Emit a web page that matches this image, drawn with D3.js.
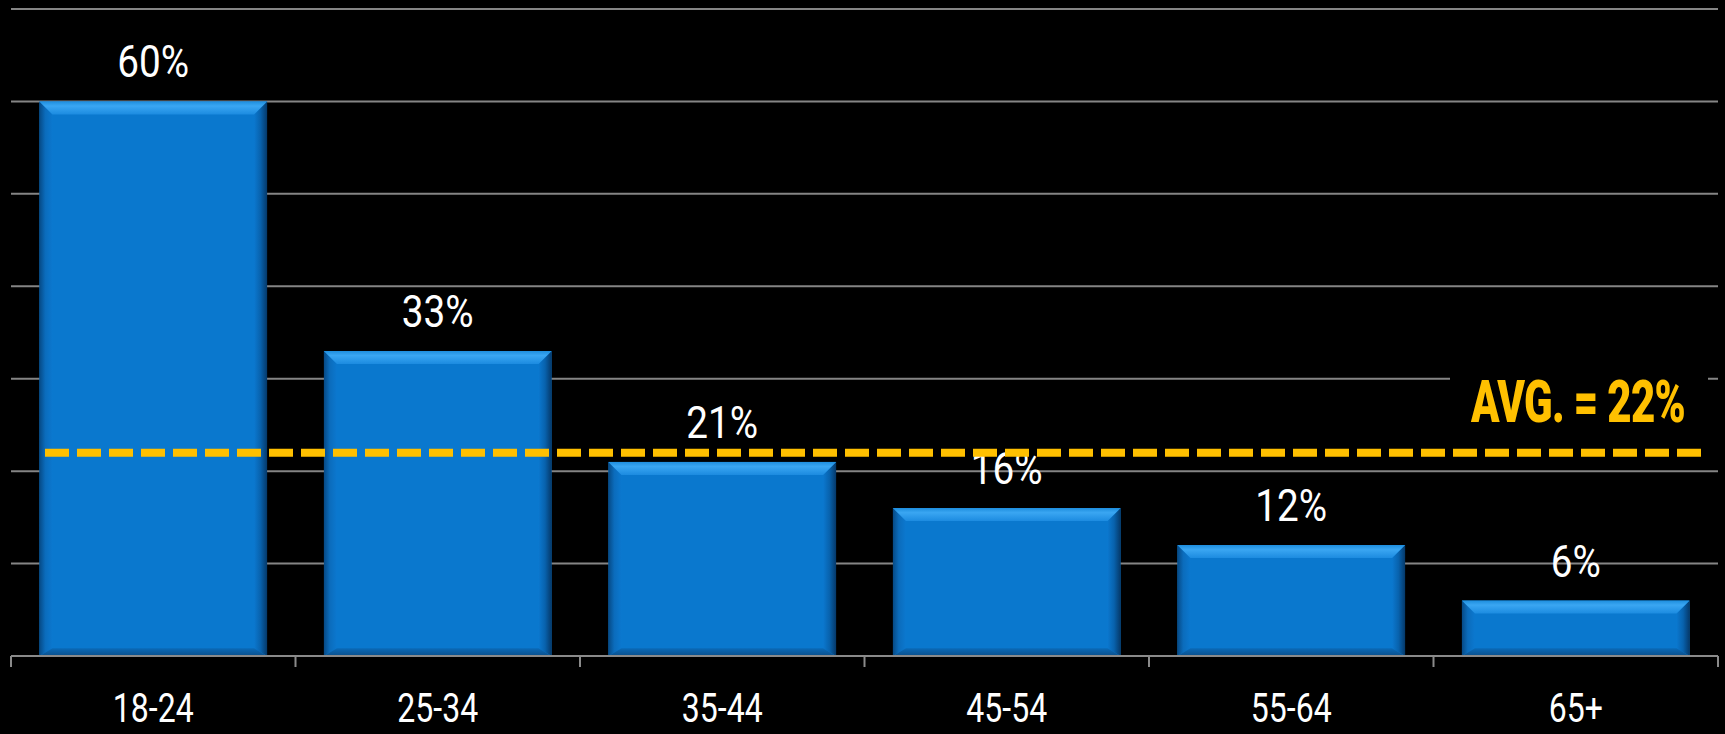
<!DOCTYPE html>
<html>
<head>
<meta charset="utf-8">
<script src="https://cdn.jsdelivr.net/npm/d3@7"></script>
<style>
  html, body { margin: 0; padding: 0; background: #000; }
  svg { display: block; }
</style>
</head>
<body>
<svg id="chart" width="1725" height="734"></svg>
<script>
// Share of respondents by age group
const categories = ["18-24", "25-34", "35-44", "45-54", "55-64", "65+"];
const values = [60, 33, 21, 16, 12, 6];
const averageValue = 22;
const averageLabel = "AVG. = 22%";
const gridTicks = [10, 20, 30, 40, 50, 60, 70];

const W = 1725, H = 734;
const plotLeft = 11, plotRight = 1718, plotTop = 9, baseline = 656;

const svg = d3.select("#chart");
svg.append("rect").attr("width", W).attr("height", H).attr("fill", "#000");

const x = d3.scaleBand().domain(categories).range([plotLeft, plotRight])
  .paddingInner(0.2).paddingOuter(0.1);
const y = d3.scaleLinear().domain([0, 70]).range([baseline, plotTop]);

// gradients for the bevelled bars
const defs = svg.append("defs");
function lin(id, x1, y1, x2, y2, stops) {
  const g = defs.append("linearGradient").attr("id", id)
    .attr("x1", x1).attr("y1", y1).attr("x2", x2).attr("y2", y2);
  stops.forEach(s => g.append("stop").attr("offset", s[0]).attr("stop-color", s[1]));
}
lin("bevTop", 0, 0, 0, 1, [[0, "#1e8ede"], [0.35, "#3aa6f2"], [1, "#1c8be0"]]);
lin("bevLeft", 0, 0, 1, 0, [[0, "#064a86"], [0.45, "#0b6cbc"], [1, "#0b78cf"]]);
lin("bevRight", 1, 0, 0, 0, [[0, "#05396a"], [0.5, "#0862ad"], [1, "#0b78cf"]]);
lin("bevBottom", 0, 1, 0, 0, [[0, "#0a4f8c"], [1, "#0a6ab8"]]);

// horizontal gridlines
svg.append("g").selectAll("line").data(gridTicks).join("line")
  .attr("x1", plotLeft).attr("x2", plotRight)
  .attr("y1", d => y(d)).attr("y2", d => y(d))
  .attr("stroke", "#858585").attr("stroke-width", 2);

// bars
const b = 13;
const bars = svg.append("g").selectAll("g").data(categories.map((c, i) => ({ c, v: values[i] }))).join("g");
bars.each(function (d) {
  const g = d3.select(this);
  const x0 = x(d.c), x1 = x0 + x.bandwidth(), y0 = y(d.v), y1 = y(0);
  const bb = Math.min(b, (y1 - y0) / 3);
  const pts = a => a.map(p => p.join(",")).join(" ");
  g.append("rect").attr("x", x0).attr("y", y0).attr("width", x1 - x0).attr("height", y1 - y0)
    .attr("fill", "#0a78ce");
  g.append("polygon").attr("points", pts([[x0, y0], [x0 + bb, y0 + bb], [x0 + bb, y1 - bb * 0.6], [x0, y1]]))
    .attr("fill", "url(#bevLeft)");
  g.append("polygon").attr("points", pts([[x1, y0], [x1 - bb, y0 + bb], [x1 - bb, y1 - bb * 0.6], [x1, y1]]))
    .attr("fill", "url(#bevRight)");
  g.append("polygon").attr("points", pts([[x0, y1], [x0 + bb, y1 - bb * 0.6], [x1 - bb, y1 - bb * 0.6], [x1, y1]]))
    .attr("fill", "url(#bevBottom)");
  g.append("polygon").attr("points", pts([[x0, y0], [x1, y0], [x1 - bb, y0 + bb], [x0 + bb, y0 + bb]]))
    .attr("fill", "url(#bevTop)");
});

// bottom axis line with ticks on the category boundaries
const bounds = d3.range(categories.length + 1).map(i => Math.min(plotLeft + i * x.step(), plotRight));
svg.append("line").attr("x1", plotLeft).attr("x2", plotRight).attr("y1", baseline).attr("y2", baseline)
  .attr("stroke", "#8a8a8a").attr("stroke-width", 2);
svg.append("g").selectAll("line").data(bounds).join("line")
  .attr("x1", d => d).attr("x2", d => d)
  .attr("y1", baseline).attr("y2", baseline + 11)
  .attr("stroke", "#8a8a8a").attr("stroke-width", 2);

// condensed text helper
function ctext(parent, cx, cy, str, size, sx, fill, weight) {
  return parent.append("text")
    .attr("transform", `translate(${cx},${cy}) scale(${sx},1)`)
    .attr("text-anchor", "middle")
    .attr("font-family", "Roboto, 'DejaVu Sans', sans-serif")
    .attr("font-size", size).attr("font-weight", weight || 400)
    .attr("fill", fill).text(str);
}

// category labels
const labels = svg.append("g");
categories.forEach(c => ctext(labels, x(c) + x.bandwidth() / 2, 722, c, 40, 0.8, "#fff"));

// value labels
const vlabels = svg.append("g");
categories.forEach((c, i) => ctext(vlabels, x(c) + x.bandwidth() / 2, y(values[i]) - 24, values[i] + "%", 45, 0.86, "#fff"));

// average line
svg.append("line")
  .attr("x1", 45).attr("x2", 1702)
  .attr("y1", y(averageValue)).attr("y2", y(averageValue))
  .attr("stroke", "#ffc000").attr("stroke-width", 8)
  .attr("stroke-dasharray", "24 8");

// average label on a black plate
svg.append("rect").attr("x", 1450).attr("y", 366).attr("width", 258).attr("height", 66).attr("fill", "#000");
ctext(svg, 1578, 422, averageLabel, 60, 0.7, "#ffc000", 900)
  .attr("letter-spacing", -1);
</script>
</body>
</html>
